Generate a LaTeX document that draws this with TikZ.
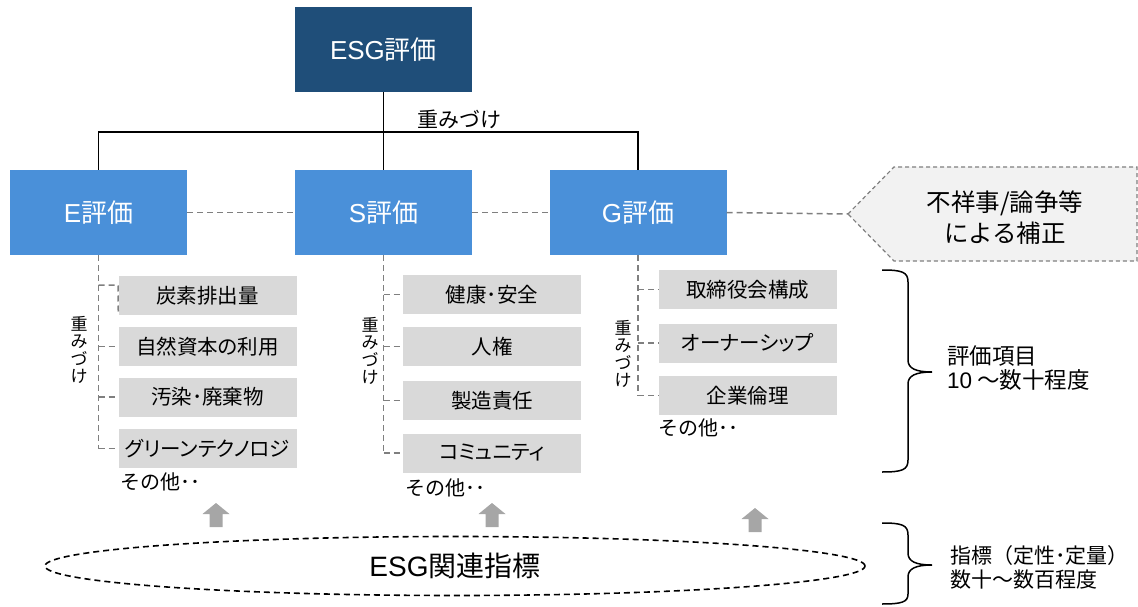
\documentclass[tikz,border=0pt]{standalone}
\usepackage{fontspec}
\setmainfont{Noto Sans CJK JP}
\newfontfamily\jpp[RawFeature=+palt]{Noto Sans CJK JP}
\newfontfamily\lat{Liberation Sans}
\usetikzlibrary{shapes.geometric}
\definecolor{darkblue}{HTML}{1F4E79}
\definecolor{midblue}{HTML}{4A90D9}
\definecolor{itemgray}{HTML}{D9D9D9}
\definecolor{pentfill}{HTML}{F2F2F2}
\definecolor{dashgray}{HTML}{7F7F7F}
\definecolor{arrgray}{HTML}{A6A6A6}
\tikzset{
  topbox/.style={fill=darkblue, text=white, minimum width=177, minimum height=85, inner sep=0, font=\fontsize{26}{30}\selectfont},
  catbox/.style={fill=midblue, text=white, minimum width=177, minimum height=85, inner sep=0, font=\fontsize{26}{30}\selectfont},
  itembox/.style={fill=itemgray, minimum width=178, minimum height=39, inner sep=0, font=\jpp\fontsize{20.5}{22}\selectfont},
  conn/.style={draw=dashgray, line width=1.5pt, dash pattern=on 6pt off 4pt},
  tree/.style={draw=black, line width=1.4pt},
  vlabel/.style={align=center, inner sep=0, font=\fontsize{17}{17.5}\selectfont},
  other/.style={anchor=west, inner sep=0, font=\fontsize{20}{22}\selectfont},
  brace/.style={draw=black, line width=1.5pt},
  bracetext/.style={anchor=west, align=left, inner sep=0, font=\fontsize{22.5}{24}\selectfont},
  blockarr/.style={fill=arrgray, draw=none}
}
\newcommand{\uparrowshape}[3]{%
  \fill[blockarr] (#1-6.5,#3) -- (#1-6.5,#2+11) -- (#1-13.5,#2+11) -- (#1,#2) -- (#1+13.5,#2+11) -- (#1+6.5,#2+11) -- (#1+6.5,#3) -- cycle;}
\begin{document}
\begin{tikzpicture}[x=1pt,y=-1pt]
\useasboundingbox (0,0) rectangle (1138,607);

% top level
\node[topbox] (top) at (383.5,49.5) {{\lat ESG}評価};
\node[catbox] (E) at (98.5,212.5) {{\lat E}評価};
\node[catbox] (S) at (383.5,212.5) {{\lat S}評価};
\node[catbox] (G) at (638,212.5) {{\lat G}評価};

\coordinate (j) at (383.5,132);
\draw[tree] (top.south) -- (S.north);
\draw[tree] (E.north) -- (E.north |- j) -- (G.north |- j) -- (G.north);
\node[inner sep=0, font=\fontsize{21}{24}\selectfont] (wt) at (459,119) {重みづけ};

% correction pentagon
\coordinate (tip) at (848,214);
\draw[conn, line width=1.2pt, dash pattern=on 4pt off 3pt, fill=pentfill] (tip) -- (894,167) -- (1137,167) -- (1137,261) -- (894,261) -- cycle;
\node[align=center, inner sep=0, font=\fontsize{24.5}{31}\selectfont] (corr) at (1005,218) {不祥事/論争等\\による補正};

\draw[conn] (E.east) -- (S.west);
\draw[conn] (S.east) -- (G.west);
\draw[conn] (G.east) -- (tip);

% E items
\node[itembox] (e1) at (207.5,295.5) {炭素排出量};
\node[itembox] (e2) at (207.5,346.5) {自然資本の利用};
\node[itembox] (e3) at (207.5,397) {汚染･廃棄物};
\node[itembox] (e4) at (207.5,448.5) {グリーンテクノロジ};
\coordinate (e1k) at (118,285);
\draw[conn] (E.south) -- (E.south |- e4.west);
\draw[conn] (E.south |- e1k) -- (e1k) -- (e1.south west);
\foreach \b in {e2,e3,e4} \draw[conn] (E.south |- \b.west) -- (\b.west);
\node[vlabel] (ev) at (79,350) {重\\み\\づ\\け};
\node[other] (eo) at (120,482) {その他･･};

% S items
\node[itembox] (s1) at (492,294.5) {健康･安全};
\node[itembox] (s2) at (492,346.5) {人権};
\node[itembox] (s3) at (492,400.5) {製造責任};
\node[itembox] (s4) at (492,453) {コミュニティ};
\draw[conn] (S.south) -- (S.south |- s4.west);
\foreach \b in {s1,s2,s3,s4} \draw[conn] (S.south |- \b.west) -- (\b.west);
\node[vlabel] (sv) at (370,351) {重\\み\\づ\\け};
\node[other] (so) at (405,488) {その他･･};

% G items
\node[itembox] (g1) at (747.5,289.5) {取締役会構成};
\node[itembox] (g2) at (747.5,343) {オーナーシップ};
\node[itembox] (g3) at (747.5,395.5) {企業倫理};
\draw[conn] (G.south) -- (G.south |- g3.west);
\foreach \b in {g1,g2,g3} \draw[conn] (G.south |- \b.west) -- (\b.west);
\node[vlabel] (gv) at (623,354) {重\\み\\づ\\け};
\node[other] (go) at (658,428) {その他･･};

% indicators
\node[draw=black, ellipse, line width=1.6pt, dash pattern=on 6pt off 4pt, minimum width=820, minimum height=59, inner sep=0, font=\fontsize{28}{32}\selectfont] (ind) at (455,566) {{\lat ESG}関連指標};

\uparrowshape{216}{503}{527}
\uparrowshape{492}{503}{527}
\uparrowshape{755}{508}{532}

% braces
\draw[brace] (882,270) .. controls (902,270) and (908,272) .. (908,282) -- (908,360)
  .. controls (908,368) and (915,372) .. (932,372)
  .. controls (915,372) and (908,376) .. (908,384) -- (908,460)
  .. controls (908,470) and (902,472) .. (882,472);
\node[bracetext] (bt1) at (947,368) {評価項目\\{\lat 10} ～数十程度};

\draw[brace] (882,523) .. controls (902,523) and (908,525) .. (908,535) -- (908,553)
  .. controls (908,561) and (915,565) .. (932,565)
  .. controls (915,565) and (908,569) .. (908,577) -- (908,594)
  .. controls (908,602) and (902,604) .. (882,604);
\node[bracetext, font=\fontsize{21}{24}\selectfont] (bt2) at (950,567) {指標（定性･定量）\\数十～数百程度};
\end{tikzpicture}
\end{document}
